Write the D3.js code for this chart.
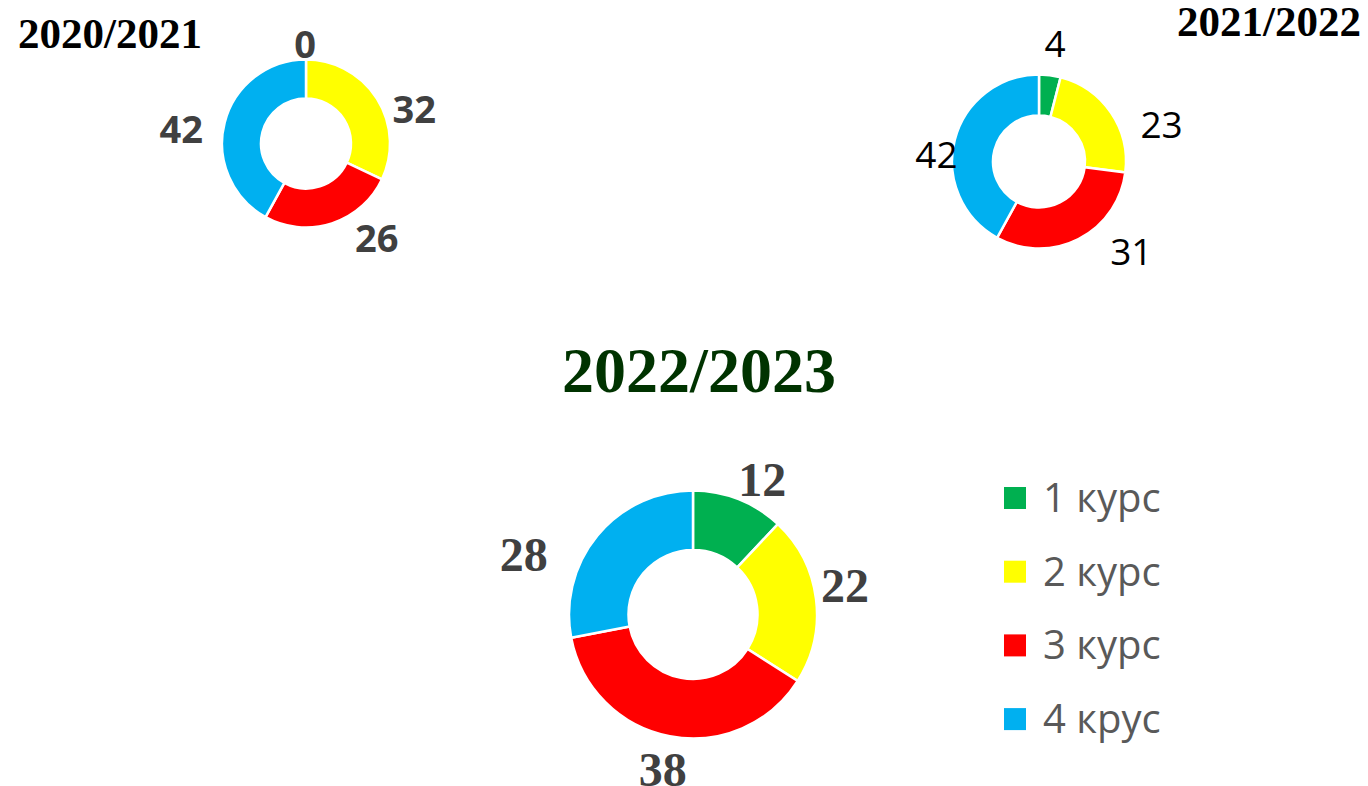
<!DOCTYPE html>
<html>
<head>
<meta charset="utf-8">
<script src="https://cdn.jsdelivr.net/npm/d3@7"></script>
<style>
    html, body { margin: 0; padding: 0; background: #fff; }
    svg { display: block; }
</style>
</head>
<body>
<svg id="chart" width="1368" height="786"></svg>
<script>
// Data
const courses = ["1 курс", "2 курс", "3 курс", "4 крус"];
const years = ["2020/2021", "2021/2022", "2022/2023"];
const values2020 = [0, 32, 26, 42];
const values2021 = [4, 23, 31, 42];
const values2022 = [12, 22, 38, 28];

// Configuration
const colors = ["#00B050", "#FFFF00", "#FF0000", "#00B0F0"];

const donuts = [
    {
        values: values2020, title: years[0],
        cx: 306, cy: 143.5, outer: 84, inner: 45,
        title_x: 18, title_y: 48, title_anchor: "start", title_size: 43, title_color: "#000",
        label_font: "'Open Sans', sans-serif", label_weight: 700, label_size: 38, label_color: "#404040",
        // nudges away from the mid-angle anchor (Excel best-fit placement)
        nudge: [[-1, 10], [16, 25], [37, -9], [-19, 13]]
    },
    {
        values: values2021, title: years[1],
        cx: 1039, cy: 161.5, outer: 87, inner: 46,
        title_x: 1361, title_y: 36, title_anchor: "end", title_size: 43, title_color: "#000",
        label_font: "'Open Sans', sans-serif", label_weight: 400, label_size: 37, label_color: "#000",
        nudge: [[2, -5], [29, 27], [41, -10], [7, 22]]
    },
    {
        values: values2022, title: years[2],
        cx: 693, cy: 614.5, outer: 124, inner: 64.5,
        title_x: 699, title_y: 392, title_anchor: "middle", title_size: 64, title_color: "#003300",
        label_font: "'Liberation Serif', 'Times New Roman', serif", label_weight: 700, label_size: 48, label_color: "#404040",
        nudge: [[10, 15], [-8, -9], [0, -4], [-45, 42]]
    }
];

const legend = { x: 1004, y: 487, size: 22, step: 73.7, textX: 1043, fontSize: 40, color: "#595959" };

const svg = d3.select("#chart");
const pie = d3.pie().sort(null).value(d => d);

donuts.forEach(cfg => {
    const g = svg.append("g").attr("transform", `translate(${cfg.cx},${cfg.cy})`);
    const arcs = pie(cfg.values);
    const arc = d3.arc().innerRadius(cfg.inner).outerRadius(cfg.outer);
    const labelR = cfg.outer * 1.3;
    const labelArc = d3.arc().innerRadius(labelR).outerRadius(labelR);

    g.selectAll("path.slice")
        .data(arcs).enter().append("path")
        .attr("class", "slice")
        .attr("d", arc)
        .attr("fill", (d, i) => colors[i])
        .attr("stroke", "#fff")
        .attr("stroke-width", 2.5)
        .attr("stroke-linejoin", "miter");

    g.selectAll("text.label")
        .data(arcs).enter().append("text")
        .attr("class", "label")
        .attr("x", (d, i) => labelArc.centroid(d)[0] + cfg.nudge[i][0])
        .attr("y", (d, i) => labelArc.centroid(d)[1] + cfg.nudge[i][1])
        .attr("dy", "0.35em")
        .attr("text-anchor", "middle")
        .attr("font-family", cfg.label_font)
        .attr("font-weight", cfg.label_weight)
        .attr("font-size", cfg.label_size + "px")
        .attr("fill", cfg.label_color)
        .text(d => d.data);

    svg.append("text")
        .attr("x", cfg.title_x).attr("y", cfg.title_y)
        .attr("text-anchor", cfg.title_anchor)
        .attr("font-family", "'Liberation Serif', 'Times New Roman', serif")
        .attr("font-weight", 700)
        .attr("font-size", cfg.title_size + "px")
        .attr("fill", cfg.title_color)
        .text(cfg.title);
});

// Legend
const lg = svg.append("g").attr("class", "legend");
const items = lg.selectAll("g.item")
    .data(courses).enter().append("g")
    .attr("class", "item")
    .attr("transform", (d, i) => `translate(0,${legend.y + i * legend.step})`);

items.append("rect")
    .attr("x", legend.x).attr("y", 0)
    .attr("width", legend.size).attr("height", legend.size)
    .attr("fill", (d, i) => colors[i]);

items.append("text")
    .attr("x", legend.textX).attr("y", legend.size / 2)
    .attr("dy", "0.35em")
    .attr("font-family", "'Open Sans', sans-serif")
    .attr("font-size", legend.fontSize + "px")
    .attr("fill", legend.color)
    .text(d => d);
</script>
</body>
</html>
